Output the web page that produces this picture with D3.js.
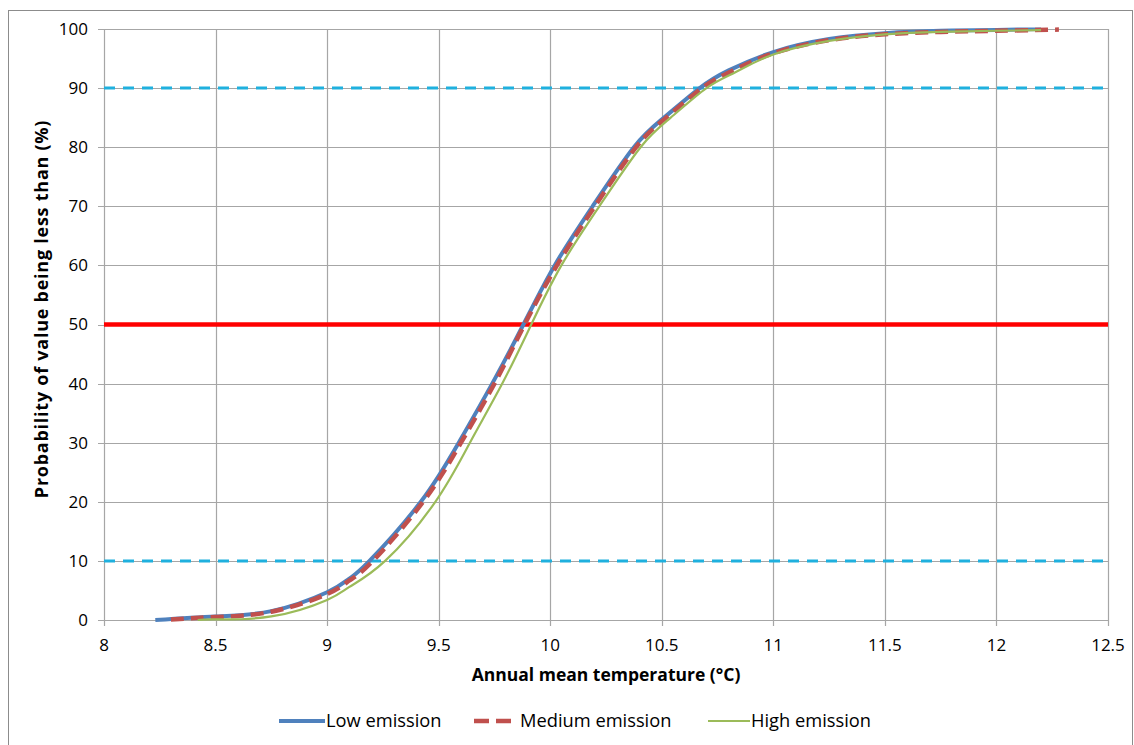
<!DOCTYPE html>
<html>
<head>
<meta charset="utf-8">
<script src="https://cdn.jsdelivr.net/npm/d3@7"></script>
<style>
  body { margin: 0; background: #fff; }
  text { font-family: "Open Sans", "Noto Sans", sans-serif; fill: #000; }
</style>
</head>
<body>
<script>
// temperature (°C) and cumulative probability (%)
var lowTemp  = [8.23, 8.5, 8.75, 9.0, 9.1, 9.19, 9.42, 9.59, 9.74, 9.88, 10.02, 10.19, 10.375, 10.51, 10.67, 10.8, 11.0, 11.25, 11.5, 11.75, 12.0, 12.2]
var lowProb  = [0, 0.6, 1.5, 4.7, 7, 10, 20, 30, 40, 50, 60, 70, 80, 85, 90, 93, 96.1, 98.3, 99.3, 99.7, 99.85, 100]
var medTemp  = [8.3, 8.5, 8.75, 9.0, 9.1, 9.2, 9.43, 9.6, 9.75, 9.885, 10.03, 10.2, 10.385, 10.52, 10.68, 10.81, 11.0, 11.25, 11.5, 11.75, 12.0, 12.28]
var medProb  = [0.1, 0.5, 1.4, 4.4, 6.7, 9.8, 20, 30, 40, 50, 60, 70, 80, 85, 90, 92.8, 95.9, 98.1, 99.1, 99.5, 99.7, 99.9]
var highTemp = [8.42, 8.5, 8.75, 9.0, 9.1, 9.26, 9.485, 9.64, 9.785, 9.915, 10.05, 10.22, 10.405, 10.54, 10.7, 10.83, 11.0, 11.25, 11.5, 11.75, 12.0, 12.2]
var highProb = [0, 0.1, 0.6, 3.4, 5.6, 10, 20, 30, 40, 50, 60, 70, 80, 85, 90, 92.7, 95.7, 98, 99.1, 99.5, 99.7, 99.8]

var xTicks = [8, 8.5, 9, 9.5, 10, 10.5, 11, 11.5, 12, 12.5]
var yTicks = [0, 10, 20, 30, 40, 50, 60, 70, 80, 90, 100]
var refLines = [10, 50, 90]

var series = [
    {name: "Low emission", temp: lowTemp, prob: lowProb, color: "#4F81BD", width: 4, dash: null, legDash: null},
    {name: "Medium emission", temp: medTemp, prob: medProb, color: "#C0504D", width: 4.5, dash: "13,7", legDash: "15,7"},
    {name: "High emission", temp: highTemp, prob: highProb, color: "#9BBB59", width: 2.2, dash: null, legDash: null}
]

var W = 1134, H = 745
var margin = {top: 29, right: 26, bottom: 125, left: 104}
var width = W - margin.left - margin.right,
    height = H - margin.top - margin.bottom

var svg = d3.select("body").append("svg")
    .attr("width", W)
    .attr("height", H)

// chart frame
svg.append("rect")
    .attr("x", 8.5).attr("y", 10.5)
    .attr("width", 1124).attr("height", 740)
    .attr("fill", "none").attr("stroke", "#8c8c8c").attr("stroke-width", 1)

var g = svg.append("g")
    .attr("transform", "translate(" + margin.left + "," + margin.top + ")")

var x = d3.scaleLinear().domain([8, 12.5]).range([0, width])
var y = d3.scaleLinear().domain([0, 100]).range([height, 0])

// grid
g.selectAll("line.hgrid").data(yTicks).enter().append("line")
    .attr("class", "hgrid")
    .attr("x1", -6).attr("x2", width)
    .attr("y1", function(d) { return Math.round(y(d)) + 0.5 })
    .attr("y2", function(d) { return Math.round(y(d)) + 0.5 })
    .attr("stroke", "#a6a6a6").attr("stroke-width", 1.2)

g.selectAll("line.vgrid").data(xTicks).enter().append("line")
    .attr("class", "vgrid")
    .attr("x1", function(d) { return Math.round(x(d)) + 0.5 })
    .attr("x2", function(d) { return Math.round(x(d)) + 0.5 })
    .attr("y1", 0).attr("y2", height + 6)
    .attr("stroke", "#a6a6a6").attr("stroke-width", 1.2)

// axis labels
g.selectAll("text.ylab").data(yTicks).enter().append("text")
    .attr("class", "ylab")
    .attr("x", -16)
    .attr("y", function(d) { return y(d) })
    .attr("dy", "0.35em")
    .attr("text-anchor", "end")
    .style("font-size", "17px")
    .text(function(d) { return d })

g.selectAll("text.xlab").data(xTicks).enter().append("text")
    .attr("class", "xlab")
    .attr("x", function(d) { return x(d) })
    .attr("y", height + 31)
    .attr("text-anchor", "middle")
    .style("font-size", "17px")
    .text(function(d) { return d })

// reference lines
refLines.forEach(function(v) {
    var l = g.append("line")
        .attr("x1", 0).attr("x2", width)
        .attr("y1", y(v)).attr("y2", y(v))
    if (v == 50) {
        l.attr("stroke", "#FF0000").attr("stroke-width", 4.5)
    } else {
        l.attr("stroke", "#1FB0DE").attr("stroke-width", 3).attr("stroke-dasharray", "11,8")
    }
})

// curves
var line = d3.line()
    .x(function(d) { return x(d[0]) })
    .y(function(d) { return y(d[1]) })
    .curve(d3.curveNatural)

series.forEach(function(s) {
    var pts = d3.zip(s.temp, s.prob)
    g.append("path")
        .datum(pts)
        .attr("d", line)
        .attr("fill", "none")
        .attr("stroke", s.color)
        .attr("stroke-width", s.width)
        .attr("stroke-dasharray", s.dash)
})

// titles
svg.append("text")
    .attr("x", 606).attr("y", 681)
    .attr("text-anchor", "middle")
    .style("font-size", "17.5px").style("font-weight", "bold")
    .text("Annual mean temperature (°C)")

svg.append("text")
    .attr("transform", "translate(48,309) rotate(-90)")
    .attr("text-anchor", "middle")
    .style("font-size", "18px").style("font-weight", "bold")
    .style("letter-spacing", "0.75px")
    .text("Probability of value being less than (%)")

// legend
var legX = [279, 474, 708]
var legLen = [46, 37, 42]
var leg = svg.selectAll("g.leg").data(series).enter().append("g")
    .attr("class", "leg")
    .attr("transform", function(d, i) { return "translate(" + legX[i] + ",721)" })

leg.append("line")
    .attr("x1", 0).attr("x2", function(d, i) { return legLen[i] })
    .attr("y1", 0).attr("y2", 0)
    .attr("stroke", function(d) { return d.color })
    .attr("stroke-width", function(d) { return d.width })
    .attr("stroke-dasharray", function(d) { return d.legDash })

leg.append("text")
    .attr("x", function(d, i) { return i == 1 ? 46 : legLen[i] + 1 })
    .attr("y", 0)
    .attr("dy", "0.35em")
    .style("font-size", "18.3px")
    .text(function(d) { return d.name })
</script>
</body>
</html>
